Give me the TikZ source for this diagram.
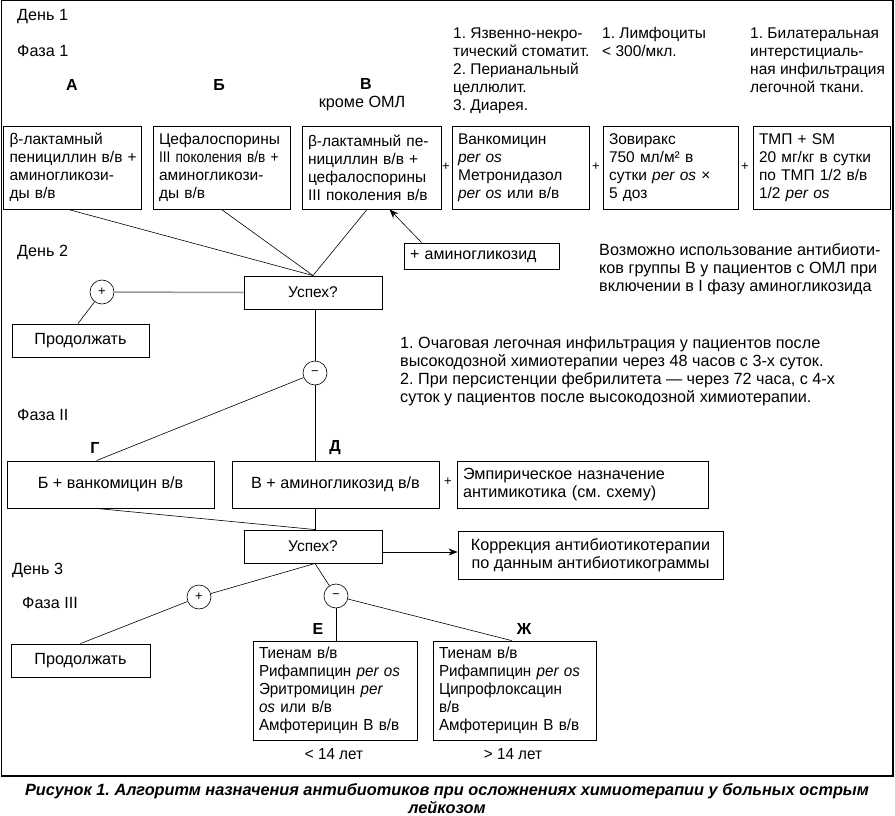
\documentclass[tikz,border=0pt]{standalone}
\usepackage{fontspec}
\setmainfont{Liberation Sans}
\newfontfamily\narrowfont[FakeStretch=0.95]{Liberation Sans}
\newfontfamily\condfont[FakeStretch=0.88]{Liberation Sans}
\usetikzlibrary{arrows.meta,calc}
\newcommand\myfs{\fontsize{15.5}{18}\selectfont}
\newcommand\mybig{\fontsize{16.2}{18}\selectfont}
\newcommand\mysmall{\fontsize{13}{15}\selectfont}
\newcommand\lb[1]{\mbox{#1}}
\frenchspacing
\begin{document}
\begin{tikzpicture}[x=1pt,y=-1pt, font=\myfs,
  box/.style={draw, line width=0.9pt, inner xsep=6pt, inner ysep=0pt, align=left},
  cbox/.style={draw, line width=0.9pt, inner sep=0pt, align=center},
  nbox/.style={draw, line width=0.9pt, inner xsep=6pt, inner ysep=0pt, align=left,
    font=\narrowfont\fontsize{16}{18}\selectfont},
  note/.style={anchor=north west, inner sep=0pt, align=left},
  lbl/.style={anchor=west, inner sep=0pt, font=\mybig},
  let/.style={inner sep=0pt, font=\fontsize{16}{18}\selectfont\bfseries},
  circ/.style={circle, draw, line width=0.6pt, minimum size=24pt, inner sep=0pt, font=\mysmall},
  plus/.style={inner sep=0pt, font=\mysmall},
  conn/.style={line width=0.6pt},
  arr/.style={line width=0.6pt, -{Stealth[length=9pt, width=7pt]}}]
\useasboundingbox (0,0) rectangle (895,816);
% frame
\draw[line width=1.4pt] (1.5,0.5) rectangle (893,776);

% day/phase labels
\node[lbl] (d1) at (17,17) {День 1};
\node[lbl] (f1) at (17,51) {Фаза 1};
\node[lbl] (d2) at (17,252) {День 2};
\node[lbl] (f2) at (17,415) {Фаза II};
\node[lbl] (d3) at (12,570) {День 3};
\node[lbl] (f3) at (22,603) {Фаза III};

% letters
\node[let] (la) at (72,85) {А};
\node[let] (lb) at (219,85) {Б};
\node[let] (lv) at (366,84) {В};
\node[inner sep=0pt, font=\mybig] (omlv) at (362,104) {кроме ОМЛ};

% notes top right
\node[note] (n1) at (453,27.5) {1. Язвенно-некро-\\тический стоматит.\\2. Перианальный\\целлюлит.\\3. Диарея.};
\node[note] (n2) at (602,27.5) {1. Лимфоциты\\< 300/мкл.};
\node[note] (n3) at (750,27.5) {1. Билатеральная\\интерстициаль-\\ная инфильтрация\\легочной ткани.};

% phase I boxes
\node[box, text width=125.5pt, minimum height=83pt] (ba) at (72.25,167.5)
  {\lb{β-лактамный}\\\lb{пенициллин в/в +}\\\lb{аминогликози-}\\\lb{ды в/в}};
\node[box, text width=125pt, minimum height=83pt] (bb) at (221.5,167.5)
  {\lb{Цефалоспорины}\\\lb{\condfont III поколения в/в +}\\\lb{аминогликози-}\\\lb{ды в/в}};
\node[box, text width=127pt, minimum height=83pt] (bv) at (371.5,167.5)
  {\lb{β-лактамный пе-}\\\lb{нициллин в/в +}\\\lb{цефалоспорины}\\\lb{III поколения в/в}};
\node[box, text width=125pt, minimum height=83pt] (bvan) at (520.5,167.5)
  {\lb{Ванкомицин}\\\lb{\textit{per os}}\\\lb{Метронидазол}\\\lb{\textit{per os} или в/в}};
\node[box, text width=123pt, minimum height=83pt] (bzov) at (670.5,167.5)
  {\lb{Зовиракс}\\\lb{750 мл/м² в}\\\lb{сутки \textit{per os} ×}\\\lb{5 доз}};
\node[box, text width=125pt, minimum height=83pt] (btmp) at (821.5,167.5)
  {\lb{ТМП + SM}\\\lb{20 мг/кг в сутки}\\\lb{по ТМП 1/2 в/в}\\\lb{1/2 \textit{per os}}};
\node[plus] (p1) at (446,167) {+};
\node[plus] (p2) at (596,167) {+};
\node[plus] (p3) at (745,167) {+};

% aminoglycoside box
\node[box, minimum width=155pt, minimum height=26pt, inner xsep=0pt, text width=143pt, font=\fontsize{16}{18}\selectfont] (amino) at (481.5,256) {+ аминогликозид};
\draw[arr] ($(amino.north west)+(18,0)$) -- ($(bv.south west)+(88,0)$);

\node[note, font=\mybig] (n4) at (599,243.5) {Возможно использование антибиоти-\\ков группы В у пациентов с ОМЛ при\\включении в I фазу аминогликозида};

% day 2
\node[cbox, minimum width=138pt, minimum height=33pt] (u1) at (313,292.5) {Успех?};
\draw[conn] ($(ba.south)+(-4,0)$) -- (u1.north);
\draw[conn] (bb.south) -- (u1.north);
\draw[conn] ($(bv.south)+(-4.5,0)$) -- (u1.north);
\node[circ] (c1) at (102,292) {+};
\draw[line width=1.5pt, black!40] (c1) -- (u1.west);
\node[cbox, minimum width=137pt, minimum height=33pt, font=\mybig] (prod1) at (80.5,340.5) {Продолжать};
\draw[conn] (c1) -- ($(prod1.north)+(-2.5,0)$);

\node[note, font=\mybig] (n5) at (400,336.5) {1. Очаговая легочная инфильтрация у пациентов после\\высокодозной химиотерапии через 48 часов с 3-х суток.\\2. При персистенции фебрилитета — через 72 часа, с 4-х\\суток у пациентов после высокодозной химиотерапии.};

\node[circ] (m1) at (315,373) {−};
\draw[conn] (u1.south -| m1) -- (m1);

% phase II
\node[cbox, minimum width=207pt, minimum height=47pt, font=\mybig] (bg) at (110.5,484.5) {Б + ванкомицин в/в};
\node[cbox, minimum width=207pt, minimum height=47pt, font=\mybig] (bd) at (335.5,484.5) {В + аминогликозид в/в};
\node[let] (lg) at (95,448) {Г};
\node[let] (ld) at (335,448) {Д};
\node[plus] (p4) at (448,482) {+};
\node[box, text width=239pt, minimum height=47pt, font=\mybig] (emp) at (582.5,484.5) {Эмпирическое назначение\\антимикотика (см. схему)};
\coordinate (gtop) at ($(bg.north west)+(90,0)$);
\coordinate (gbot) at ($(bg.south west)+(90,0)$);
\draw[conn] (m1) -- (gtop);
\draw[conn] (m1) -- (m1 |- bd.north);

\node[cbox, minimum width=138pt, minimum height=33pt] (u2) at (313,546.5) {Успех?};
\draw[conn] (gbot) -- (u2.north -| m1);
\draw[conn] (bd.south -| m1) -- (u2.north -| m1);
\node[cbox, minimum width=265pt, minimum height=48pt, font=\mybig] (korr) at (590.5,555) {Коррекция антибиотикотерапии\\по данным антибиотикограммы};
\coordinate (ua) at ($(u2.east)+(0,5.5)$);
\draw[arr] (ua) -- (ua -| korr.west);

% phase III
\node[circ] (c2) at (199,597) {+};
\node[circ] (m2) at (336,596) {−};
\draw[conn] (u2.south -| m1) -- (c2);
\draw[conn] (u2.south -| m1) -- (m2);
\node[cbox, minimum width=139pt, minimum height=33pt, font=\mybig] (prod2) at (80.5,660.5) {Продолжать};
\draw[conn] (c2) -- (prod2.north);

\node[nbox, text width=152pt, minimum height=99pt] (be) at (335,690.5)
  {\lb{Тиенам в/в}\\\lb{Рифампицин \textit{per os}}\\\lb{Эритромицин \textit{per}}\\\lb{\textit{os} или в/в}\\\lb{Амфотерицин В в/в}};
\node[nbox, text width=151pt, minimum height=99pt] (bzh) at (514.5,690.5)
  {\lb{Тиенам в/в}\\\lb{Рифампицин \textit{per os}}\\\lb{Ципрофлоксацин}\\\lb{в/в}\\\lb{Амфотерицин В в/в}};
\node[let] (le) at (318,629) {Е};
\node[let] (lzh) at (524,629) {Ж};
\draw[conn] (m2) -- (m2 |- be.north);
\draw[conn] (m2) -- ($(bzh.north west)+(79,0)$);
\node[inner sep=0pt, font=\narrowfont\fontsize{16}{18}\selectfont] (age1) at (334,754) {< 14 лет};
\node[inner sep=0pt, font=\narrowfont\fontsize{16}{18}\selectfont] (age2) at (513,754) {> 14 лет};

% caption
\node[align=center, inner sep=0pt, font=\bfseries\itshape\fontsize{16.3}{18}\selectfont] (cap) at (447,798.5)
  {Рисунок 1. Алгоритм назначения антибиотиков при осложнениях химиотерапии у больных острым\\лейкозом};
\end{tikzpicture}
\end{document}
